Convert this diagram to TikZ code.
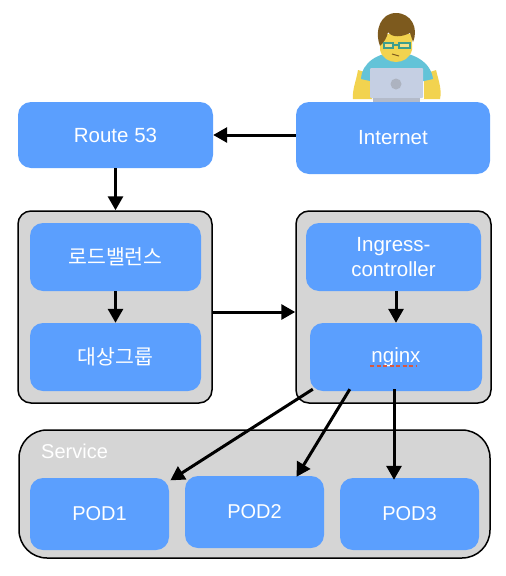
\documentclass[tikz,border=0pt]{standalone}
\usepackage{fontspec}
\setmainfont{Liberation Sans}
\newfontfamily\krfont{Noto Sans CJK KR}
\usetikzlibrary{arrows.meta, positioning, calc}
\definecolor{boxblue}{HTML}{5B9FFE}
\definecolor{groupgray}{HTML}{D5D5D5}
\definecolor{skin}{HTML}{F2D34F}
\definecolor{shirt}{HTML}{63C3D8}
\definecolor{hair}{HTML}{7D5A1E}
\definecolor{laptop}{HTML}{C5CFE3}
\definecolor{glasses}{HTML}{3E9E8C}
\definecolor{squiggle}{HTML}{D9583F}

\begin{document}
\begin{tikzpicture}[
  x=1pt, y=-1pt,
  >={Triangle[length=14pt, width=15pt]},
  every node/.style={font=\fontsize{20.5}{25}\selectfont},
  blue box/.style={fill=boxblue, rounded corners=13pt, text=white, align=center,
                   inner sep=0pt, minimum width=#1},
  blue box/.default=172pt,
  group/.style={draw=black, fill=groupgray, line width=1.5pt, rounded corners=13pt,
                inner sep=0pt},
  edge/.style={->, line width=3pt}
]
  \useasboundingbox (0,0) rectangle (506,576);

  % User at the laptop
  \fill[skin] (353,99) .. controls (352,90) and (356,82) .. (358,70) -- (372,74) -- (372,99)
    -- (424,99) -- (424,74) -- (436,70) .. controls (439,82) and (442,90) .. (440,99) -- cycle;
  \fill[shirt] (361,79) .. controls (362,62) and (378,53) .. (396,52)
    .. controls (414,53) and (431,62) .. (433,79) -- (424,81) -- (370,81) -- cycle;
  \fill[skin] (380,34) -- (412,34) -- (412,50) .. controls (408,66) and (384,66) .. (380,50) -- cycle;
  \fill[hair] (380,46) .. controls (374,30) and (381,13) .. (396,13)
    .. controls (411,13) and (419,28) .. (413,42) -- (410,33) .. controls (402,37) and (392,38) .. (388,32)
    .. controls (387,38) and (384,42) .. (380,46) -- cycle;
  \draw[glasses, line width=1.5pt, fill=skin!70!white] (384,43) rectangle (393,48)
    (399,43) rectangle (410,48) (393,45) -- (399,45);
  \draw[hair, line width=1pt] (392,54) -- (399,56);
  \fill[laptop, rounded corners=1pt] (370,68) rectangle (423,98);
  \fill[laptop!75!gray] (373,98) rectangle (420,102);
  \fill[laptop!65!gray] (396,84) circle (5.5);

  % Top row
  \node[blue box=195pt, minimum height=66pt] (route) at (115.5,135) {Route 53};
  \node[blue box=194pt, minimum height=72pt] (internet) at (393,138) {Internet};

  % Load balancer group
  \node[group, minimum width=194pt, minimum height=192pt] (lbgroup) at (115,307) {};
  \node[blue box=171pt, minimum height=68pt] (lb) at (115.5,257) {\krfont 로드밸런스};
  \node[blue box=171pt, minimum height=68pt] (target) at (115.5,357) {\krfont 대상그룹};

  % Ingress group
  \node[group, minimum width=195pt, minimum height=192pt] (ingressgroup) at (393.5,307) {};
  \node[blue box=175pt, minimum height=68pt] (ingress) at (393.5,257) {Ingress-\\controller};
  \node[blue box=172pt, minimum height=68pt] (nginx) at (396,357) {nginx};
  \draw[squiggle, line width=1.5pt, dash pattern=on 4pt off 2.5pt] (370,366) -- (417,366);

  % Service group
  \node[group, rounded corners=28pt, minimum width=471pt, minimum height=128pt] (service) at (254.5,494) {};
  \node[text=white, anchor=west, inner sep=0pt, font=\fontsize{20}{24}\selectfont] (servicelabel) at (41,451) {Service};
  \node[blue box=139pt, minimum height=72pt, font=\fontsize{20}{24}\selectfont] (pod1) at (99.5,514) {POD1};
  \node[blue box=139pt, minimum height=72pt, font=\fontsize{20}{24}\selectfont] (pod2) at (254.5,512) {POD2};
  \node[blue box=139pt, minimum height=72pt, font=\fontsize{20}{24}\selectfont] (pod3) at (409.5,514) {POD3};

  \draw[edge] (internet.west |- route.east) -- (route.east);
  \draw[edge] (route.south) -- (route.south |- lbgroup.north);
  \draw[edge] (lb) -- (target);
  \draw[edge] (lbgroup.east |- 0,312) -- (ingressgroup.west |- 0,312);
  \draw[edge] (ingress.south -| nginx.south) -- (nginx.north);
  \draw[edge, shorten >=-1pt] ([xshift=3pt,yshift=2pt]nginx.south west) -- ([xshift=2pt,yshift=-2pt]pod1.north east);
  \draw[edge] ([xshift=40pt,yshift=2pt]nginx.south west) -- ([xshift=42pt,yshift=-1pt]pod2.north);
  \draw[edge] ([yshift=2pt,xshift=-2pt]nginx.south) -- ([yshift=-2pt,xshift=-15.5pt]pod3.north);
\end{tikzpicture}
\end{document}
